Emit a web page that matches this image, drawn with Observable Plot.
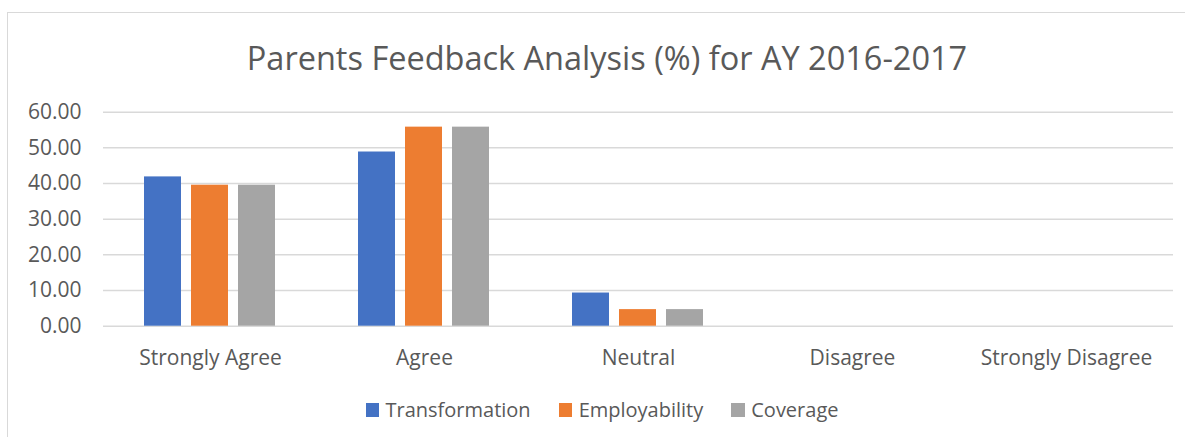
<!DOCTYPE html>
<html>
<head>
<meta charset="utf-8">
<script src="https://cdn.jsdelivr.net/npm/d3@7"></script>
<script src="https://cdn.jsdelivr.net/npm/@observablehq/plot@0.6"></script>
<style>
  html, body { margin: 0; padding: 0; background: #fff; overflow: hidden; }
  #wrap { position: relative; width: 1185px; height: 437px; overflow: hidden; font-family: "Open Sans", sans-serif; color: #595959; }
  #border { position: absolute; left: 7px; top: 12px; width: 1300px; height: 600px; border: 1.5px solid #d9d9d9; box-sizing: border-box; }
  #title { position: absolute; left: 0; width: 1214px; top: 37px; text-align: center; font-size: 32.5px; line-height: 42px; }
  #chart { position: absolute; left: 0; top: 0; }
  #legend { position: absolute; top: 396px; left: 0; width: 1204px; display: flex; justify-content: center; gap: 28px; font-size: 20px; line-height: 28px; }
  .item { display: flex; align-items: center; }
  .sw { width: 13.5px; height: 13.5px; margin-right: 6.5px; display: inline-block; }
</style>
</head>
<body>
<div id="wrap">
  <div id="border"></div>
  <div id="title"></div>
  <div id="chart"></div>
  <div id="legend"></div>
</div>
<script>
const titleText = "Parents Feedback Analysis (%) for AY 2016-2017";
const categories = ["Strongly Agree", "Agree", "Neutral", "Disagree", "Strongly Disagree"];
const series = ["Transformation", "Employability", "Coverage"];
const transformation = [41.86, 48.84, 9.30, 0, 0];
const employability = [39.53, 55.81, 4.65, 0, 0];
const coverage = [39.53, 55.81, 4.65, 0, 0];
const yTicks = [0, 10, 20, 30, 40, 50, 60];
const colors = ["#4472C4", "#ED7D31", "#A5A5A5"];

const valuesBySeries = [transformation, employability, coverage];
const data = [];
categories.forEach((c, i) => {
  series.forEach((s, j) => {
    data.push({category: c, series: s, value: valuesBySeries[j][i]});
  });
});

document.getElementById("title").textContent = titleText;

const chart = Plot.plot({
  width: 1185,
  height: 437,
  marginLeft: 102,
  marginRight: 11,
  marginTop: 111.7,
  marginBottom: 111.3,
  style: {fontFamily: "Open Sans, sans-serif", fontSize: "21px", color: "#595959", background: "transparent"},
  fx: {domain: categories, padding: 0, label: null, tickSize: 0, tickPadding: 24, axis: "bottom"},
  x: {domain: series, paddingInner: 0.208, paddingOuter: 0.838, axis: null},
  y: {domain: [0, 60], ticks: yTicks, tickFormat: d => d.toFixed(2), tickSize: 0, tickPadding: 22, label: null},
  color: {domain: series, range: colors},
  marks: [
    Plot.ruleY(yTicks, {stroke: "#d9d9d9", strokeWidth: 1.5}),
    Plot.barY(data, {fx: "category", x: "series", y: "value", fill: "series"})
  ]
});
document.getElementById("chart").appendChild(chart);

const legend = document.getElementById("legend");
series.forEach((s, i) => {
  const item = document.createElement("div");
  item.className = "item";
  const sw = document.createElement("span");
  sw.className = "sw";
  sw.style.background = colors[i];
  const t = document.createElement("span");
  t.textContent = s;
  item.appendChild(sw);
  item.appendChild(t);
  legend.appendChild(item);
});
</script>
</body>
</html>
